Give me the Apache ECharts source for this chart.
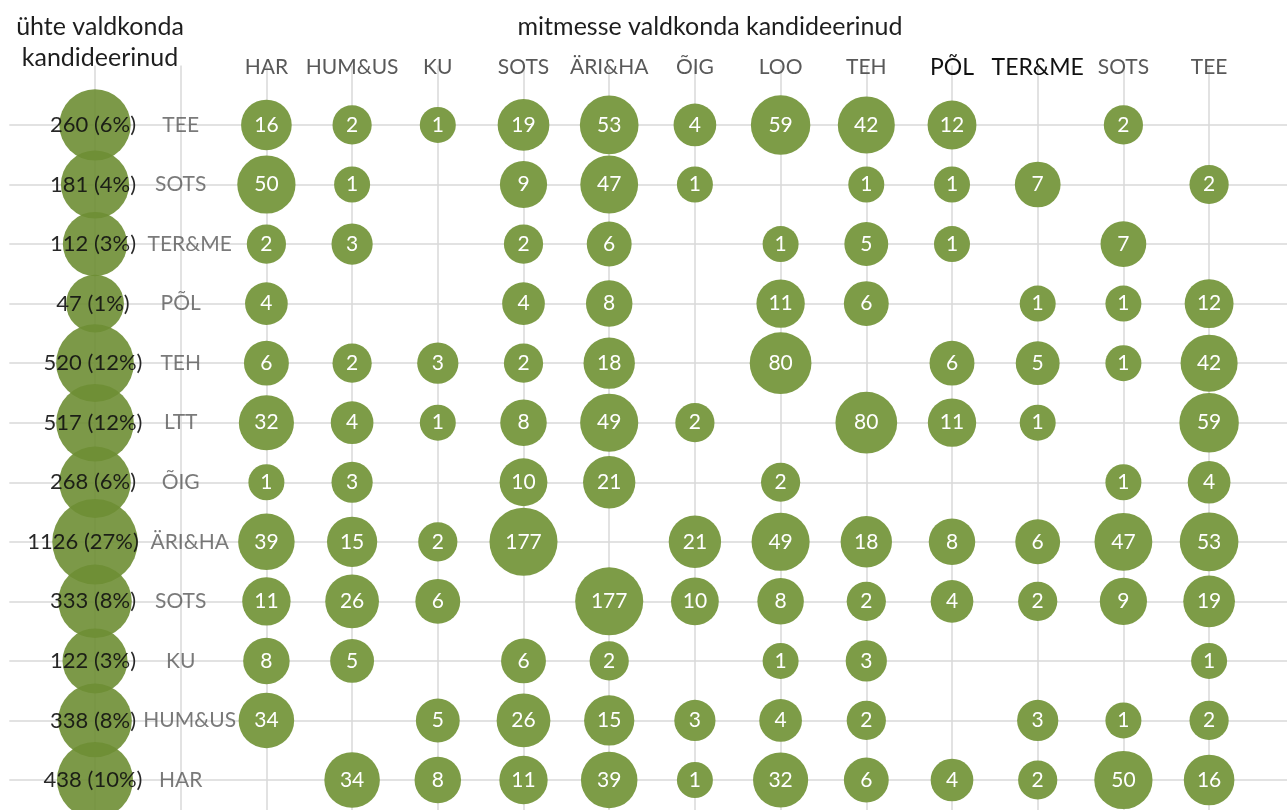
<!DOCTYPE html>
<html>
<head>
<meta charset="utf-8">
<script src="https://cdn.jsdelivr.net/npm/echarts@6/dist/echarts.min.js"></script>
<style>
html, body { margin: 0; padding: 0; background: #fff; }
#chart { width: 1287px; height: 810px; }
</style>
</head>
<body>
<div id="chart"></div>
<script>
// rows (top to bottom) and columns of the matrix
var rowNames = ['TEE', 'SOTS', 'TER&ME', 'PÕL', 'TEH', 'LTT', 'ÕIG', 'ÄRI&HA', 'SOTS', 'KU', 'HUM&US', 'HAR'];
var colNames = ['HAR', 'HUM&US', 'KU', 'SOTS', 'ÄRI&HA', 'ÕIG', 'LOO', 'TEH', 'PÕL', 'TER&ME', 'SOTS', 'TEE'];

// ühte valdkonda kandideerinud
var rowTotals = [260, 181, 112, 47, 520, 517, 268, 1126, 333, 122, 338, 438];
var rowShares = [6, 4, 3, 1, 12, 12, 6, 27, 8, 3, 8, 10];

// mitmesse valdkonda kandideerinud (0 = tühi)
var counts = [
    [16,  2, 1,  19, 53,  4, 59, 42, 12, 0,  2,  0],
    [50,  1, 0,   9, 47,  1,  0,  1,  1, 7,  0,  2],
    [ 2,  3, 0,   2,  6,  0,  1,  5,  1, 0,  7,  0],
    [ 4,  0, 0,   4,  8,  0, 11,  6,  0, 1,  1, 12],
    [ 6,  2, 3,   2, 18,  0, 80,  0,  6, 5,  1, 42],
    [32,  4, 1,   8, 49,  2,  0, 80, 11, 1,  0, 59],
    [ 1,  3, 0,  10, 21,  0,  2,  0,  0, 0,  1,  4],
    [39, 15, 2, 177,  0, 21, 49, 18,  8, 6, 47, 53],
    [11, 26, 6,   0,177, 10,  8,  2,  4, 2,  9, 19],
    [ 8,  5, 0,   6,  2,  0,  1,  3,  0, 0,  0,  1],
    [34,  0, 5,  26, 15,  3,  4,  2,  0, 3,  1,  2],
    [ 0, 34, 8,  11, 39,  1, 32,  6,  4, 2, 50, 16]
];

var FONT = 'Lato, "Open Sans", sans-serif';
var darkCols = ['PÕL', 'TER&ME'];

function bubbleSize(val) {
    return 36 * Math.pow(val[2], 0.123);
}

var totalData = [];
var nameData = [];
var cellData = [];
for (var i = 0; i < rowNames.length; i++) {
    totalData.push([0, i, rowTotals[i], rowShares[i]]);
    nameData.push([1, i, rowNames[i]]);
    for (var j = 0; j < colNames.length; j++) {
        if (counts[i][j] > 0) {
            cellData.push([j + 2, i, counts[i][j]]);
        }
    }
}

var mychart = echarts.init(document.getElementById('chart'));

var option = {
    animation: false,
    backgroundColor: '#fff',
    textStyle: { fontFamily: FONT },
    graphic: [
        { type: 'text', x: 100, y: 27, style: { text: 'ühte valdkonda', textAlign: 'center', textVerticalAlign: 'middle', fontSize: 25, fontFamily: FONT, fill: '#1e1e1e' } },
        { type: 'text', x: 100, y: 58, style: { text: 'kandideerinud', textAlign: 'center', textVerticalAlign: 'middle', fontSize: 25, fontFamily: FONT, fill: '#1e1e1e' } },
        { type: 'text', x: 710, y: 27, style: { text: 'mitmesse valdkonda kandideerinud', textAlign: 'center', textVerticalAlign: 'middle', fontSize: 25, fontFamily: FONT, fill: '#1e1e1e' } }
    ],
    grid: {
        left: 9.3,
        top: 65.4,
        width: 1285.5,
        height: 833.7,
        containLabel: false,
        outerBoundsMode: 'none'
    },
    xAxis: {
        type: 'value',
        position: 'top',
        min: -1,
        max: 14,
        interval: 1,
        axisLine: { show: false },
        axisTick: { show: false },
        splitLine: { show: true, showMinLine: false, lineStyle: { color: '#d9d9d9', width: 1.5 } },
        axisLabel: {
            show: true,
            margin: -2,
            verticalAlign: 'middle',
            fontSize: 21,
            fontFamily: FONT,
            color: '#595959',
            formatter: function (v) {
                var name = colNames[v - 2];
                if (!name) return '';
                return darkCols.indexOf(name) >= 0 ? '{b|' + name + '}' : name;
            },
            rich: {
                b: { fontSize: 23, fontFamily: FONT, color: '#111' }
            }
        }
    },
    yAxis: {
        type: 'value',
        inverse: true,
        min: -1,
        max: 13,
        interval: 1,
        axisLine: { show: false },
        axisTick: { show: false },
        axisLabel: { show: false },
        splitLine: { show: true, showMinLine: false, lineStyle: { color: '#d9d9d9', width: 1.5 } }
    },
    series: [
        {
            name: 'ühte valdkonda',
            type: 'scatter',
            data: totalData,
            symbolSize: bubbleSize,
            itemStyle: { color: 'rgb(110,142,52)', opacity: 0.9 },
            label: {
                show: true,
                position: 'inside',
                color: '#111',
                fontSize: 22,
                fontFamily: FONT,
                formatter: function (p) {
                    return p.value[2] + ' (' + p.value[3] + '%)';
                }
            },
            labelLayout: function (p) {
                return { dx: p.text.length > 9 ? -12 : -2 };
            },
            z: 2
        },
        {
            name: 'valdkond',
            type: 'scatter',
            data: nameData,
            symbolSize: 0,
            itemStyle: { color: 'transparent' },
            label: {
                show: true,
                position: 'inside',
                color: '#595959',
                fontSize: 21,
                fontFamily: FONT,
                formatter: function (p) { return p.value[2]; }
            },
            labelLayout: function (p) {
                return { dx: p.text.length >= 6 ? 9 : 0 };
            },
            z: 3
        },
        {
            name: 'mitmesse valdkonda',
            type: 'scatter',
            data: cellData,
            symbolSize: bubbleSize,
            itemStyle: { color: '#7d9c47', opacity: 1 },
            label: {
                show: true,
                position: 'inside',
                color: '#fff',
                fontSize: 21,
                fontFamily: FONT,
                formatter: function (p) { return p.value[2]; }
            },
            z: 2
        }
    ]
};

mychart.setOption(option);
</script>
</body>
</html>
